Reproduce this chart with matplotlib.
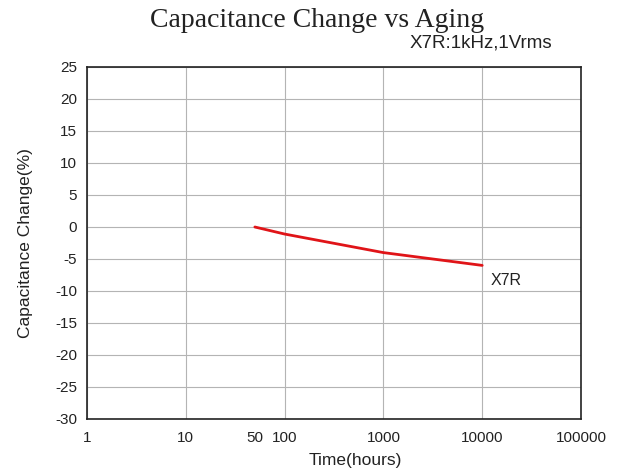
"""Capacitance change vs aging for X7R dielectric."""

import matplotlib

matplotlib.use("Agg")
from matplotlib import pyplot as plt

# data
hours = [50, 100, 1000, 10000]
change_pct = [0.0, -1.1, -4.0, -6.0]
x_ticks = [1, 10, 100, 1000, 10000, 100000]
x_tick_labels = ["1", "10", "100", "1000", "10000", "100000"]
y_ticks = list(range(-30, 30, 5))

SANS = ["Liberation Sans", "DejaVu Sans"]
SERIF = ["Liberation Serif", "DejaVu Serif"]
INK = "#222222"

plt.rcParams["axes.unicode_minus"] = False

W, H = 618, 470
fig = plt.figure(figsize=(W / 100, H / 100), dpi=100)
left, right, top, bottom = 87, 581, 67, 419
ax = fig.add_axes([left / W, 1 - bottom / H, (right - left) / W, (bottom - top) / H])

ax.plot(hours, change_pct, color="#e01418", linewidth=2.0, solid_capstyle="round", zorder=3)
ax.annotate("X7R", (hours[-1], change_pct[-1]), xytext=(6, -11), textcoords="offset points",
            fontsize=11.5, family=SANS, color=INK, va="center")

ax.set_xscale("log")
ax.set_xlim(1, 100000)
ax.set_ylim(-30, 25)
ax.set_xticks(x_ticks)
ax.set_xticklabels(x_tick_labels)
ax.set_xticks([50], minor=True)
ax.set_xticklabels(["50"], minor=True)
ax.set_yticks(y_ticks)
ax.grid(True, which="major", color="#b4b4b4", linewidth=0.8)
ax.tick_params(which="both", length=0, labelsize=11, labelcolor=INK)
ax.tick_params(axis="y", pad=7)
ax.tick_params(axis="x", which="both", pad=9)
for label in ax.get_xticklabels(which="both") + ax.get_yticklabels():
    label.set_family(SANS)
for spine in ax.spines.values():
    spine.set_linewidth(1.2)
    spine.set_color(INK)

ax.set_ylabel("Capacitance Change(%)", fontsize=12.5, family=SANS, color=INK, labelpad=16)
fig.text(355 / W, 1 - 453 / H, "Time(hours)", ha="center", va="top",
         fontsize=12.5, family=SANS, color=INK)

fig.text(317 / W, 1 - 27 / H, "Capacitance Change vs Aging", ha="center", va="baseline",
         fontsize=20, family=SERIF, color=INK)
fig.text(552 / W, 1 - 47 / H, "X7R:1kHz,1Vrms", ha="right", va="baseline",
         fontsize=13.5, family=SANS, color=INK)

fig.savefig("out.png", dpi=100)
